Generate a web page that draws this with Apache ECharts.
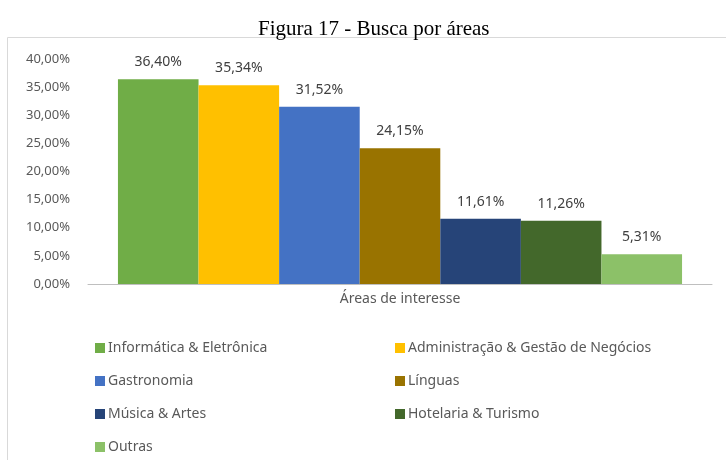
<!DOCTYPE html>
<html>
<head>
<meta charset="utf-8">
<script src="https://cdn.jsdelivr.net/npm/echarts@6/dist/echarts.min.js"></script>
<style>
html,body{margin:0;padding:0;background:#fff;}
#chart{width:726px;height:460px;}
</style>
</head>
<body>
<div id="chart"></div>
<script>
const titleText = 'Figura 17 - Busca por áreas';
const categories = ['Áreas de interesse'];
const seriesNames = ['Informática & Eletrônica','Administração & Gestão de Negócios','Gastronomia','Línguas','Música & Artes','Hotelaria & Turismo','Outras'];
const seriesValues = [36.40, 35.34, 31.52, 24.15, 11.61, 11.26, 5.31];
const seriesColors = ['#70AD47','#FFC000','#4472C4','#997300','#264478','#43682B','#8CC168'];
const legendLeft = ['Informática & Eletrônica','Gastronomia','Música & Artes','Outras'];
const legendRight = ['Administração & Gestão de Negócios','Línguas','Hotelaria & Turismo'];

const fmt = v => v.toFixed(2).replace('.', ',') + '%';
const chart = echarts.init(document.getElementById('chart'));
const series = seriesNames.map((n, i) => ({
  name: n,
  type: 'bar',
  data: [seriesValues[i]],
  barGap: '0%',
  barCategoryGap: '9.6%',
  itemStyle: { color: seriesColors[i] },
  label: {
    show: true, position: 'top', distance: 10,
    formatter: p => fmt(p.value),
    color: '#404040', fontSize: 14, fontFamily: 'Noto Sans'
  }
}));
const legendCommon = {
  orient: 'vertical', itemWidth: 10, itemHeight: 10, itemGap: 19,
  icon: 'rect',
  textStyle: { color: '#595959', fontSize: 14, fontFamily: 'Noto Sans', padding: [0,0,0,-2] }
};
chart.setOption({
  animation: false,
  title: {
    text: titleText, left: 253, top: 14,
    textStyle: { fontFamily: 'Liberation Serif', fontWeight: 'normal', fontSize: 21, color: '#000' }
  },
  graphic: [
    { type: 'line', shape: { x1: 7.5, y1: 37.5, x2: 726, y2: 37.5 }, style: { stroke: '#d9d9d9', lineWidth: 1 } },
    { type: 'line', shape: { x1: 7.5, y1: 37.5, x2: 7.5, y2: 460 }, style: { stroke: '#d9d9d9', lineWidth: 1 } }
  ],
  grid: { left: 88, right: 14, top: 59, bottom: 176 },
  xAxis: {
    type: 'category', data: categories,
    axisLine: { lineStyle: { color: '#bfbfbf' } },
    axisTick: { show: false },
    axisLabel: { color: '#595959', fontSize: 14, fontFamily: 'Noto Sans', margin: 8 }
  },
  yAxis: {
    type: 'value', min: 0, max: 40, interval: 5,
    splitLine: { show: false },
    axisLine: { show: false }, axisTick: { show: false },
    axisLabel: { formatter: v => fmt(v), color: '#595959', fontSize: 13, fontFamily: 'Noto Sans', margin: 18 }
  },
  legend: [
    Object.assign({ data: legendLeft, left: 90, top: 336 }, legendCommon),
    Object.assign({ data: legendRight, left: 390, top: 336 }, legendCommon)
  ],
  series: series
});
</script>
</body>
</html>
